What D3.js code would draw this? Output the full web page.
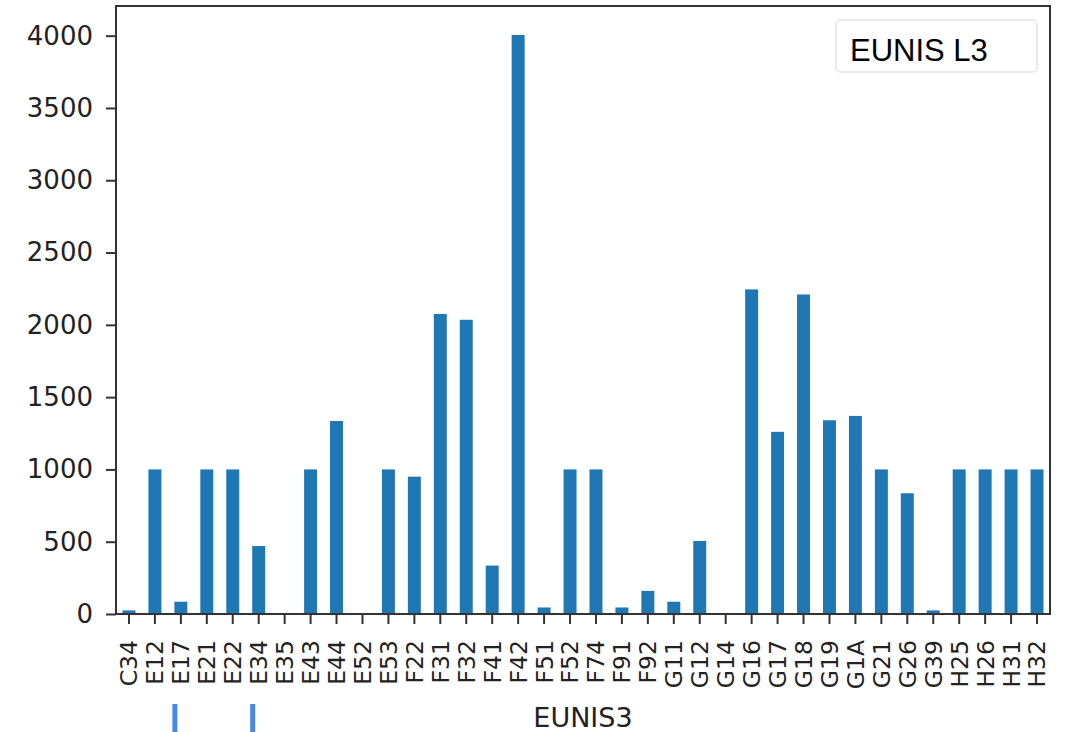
<!DOCTYPE html>
<html>
<head>
<meta charset="utf-8">
<script src="https://cdn.jsdelivr.net/npm/d3@7"></script>
<style>
  html, body { margin: 0; padding: 0; background: #fff; }
  svg { display: block; }
</style>
</head>
<body>
<svg id="chart" width="1066" height="732"></svg>
<script>
// EUNIS level-3 habitat codes and their counts
const categories = ["C34","E12","E17","E21","E22","E34","E35","E43","E44","E52","E53",
  "F22","F31","F32","F41","F42","F51","F52","F74","F91","F92",
  "G11","G12","G14","G16","G17","G18","G19","G1A","G21","G26","G39",
  "H25","H26","H31","H32"];
const counts = [25,1000,85,1000,1000,470,0,1000,1335,0,1000,
  950,2075,2035,335,4005,45,1000,1000,45,160,
  85,505,0,2245,1260,2210,1340,1370,1000,835,25,
  1000,1000,1000,1000];
const yTicks = [0,500,1000,1500,2000,2500,3000,3500,4000];
const xTitle = "EUNIS3";
const legendText = "EUNIS L3";
// short blue marker strokes under two of the codes
const markedCodes = ["E17","E34"];

const svg = d3.select("#chart");
const plot = { left: 116, right: 1050, top: 6, bottom: 614 };

const x = d3.scaleBand()
  .domain(categories)
  .range([plot.left, plot.right])
  .paddingInner(0.5)
  .paddingOuter(0.25);

const y = d3.scaleLinear()
  .domain([0, d3.max(counts) * 1.05])
  .range([plot.bottom, plot.top]);

// bars
svg.append("g")
  .selectAll("rect")
  .data(categories)
  .join("rect")
  .attr("x", d => x(d))
  .attr("width", x.bandwidth())
  .attr("y", (d, i) => y(counts[i]))
  .attr("height", (d, i) => y(0) - y(counts[i]))
  .attr("fill", "#1f77b4");

// y axis
const yAxis = svg.append("g")
  .attr("transform", `translate(${plot.left},0)`)
  .call(d3.axisLeft(y).tickValues(yTicks).tickSize(10).tickPadding(13).tickFormat(d3.format("d")));
yAxis.select(".domain").remove();
yAxis.selectAll(".tick line").attr("stroke", "#333").attr("stroke-width", 2);
yAxis.selectAll(".tick text")
  .attr("fill", "#222")
  .style("font-family", "'DejaVu Sans', sans-serif")
  .style("font-size", "26px");

// x axis
const xAxis = svg.append("g")
  .attr("transform", `translate(0,${plot.bottom})`)
  .call(d3.axisBottom(x).tickSize(10).tickPadding(0));
xAxis.select(".domain").remove();
xAxis.selectAll(".tick line").attr("stroke", "#333").attr("stroke-width", 2);
xAxis.selectAll(".tick text")
  .attr("fill", "#222")
  .attr("text-anchor", "end")
  .attr("y", 0)
  .attr("dy", "0.36em")
  .attr("transform", "translate(0,26) rotate(-90)")
  .style("font-family", "'DejaVu Sans', sans-serif")
  .style("font-size", "23.5px");

// frame
svg.append("rect")
  .attr("x", plot.left)
  .attr("y", plot.top)
  .attr("width", plot.right - plot.left)
  .attr("height", plot.bottom - plot.top)
  .attr("fill", "none")
  .attr("stroke", "#333")
  .attr("stroke-width", 2);

// x axis title
svg.append("text")
  .attr("x", (plot.left + plot.right) / 2)
  .attr("y", 727)
  .attr("text-anchor", "middle")
  .attr("fill", "#222")
  .style("font-family", "'DejaVu Sans', sans-serif")
  .style("font-size", "27px")
  .text(xTitle);

// legend box
const lg = svg.append("g");
lg.append("rect")
  .attr("x", 836)
  .attr("y", 20)
  .attr("width", 201)
  .attr("height", 52)
  .attr("rx", 4)
  .attr("fill", "#fff")
  .attr("stroke", "#e4e4e4")
  .attr("stroke-width", 1.5);
lg.append("text")
  .attr("x", 850)
  .attr("y", 61)
  .attr("fill", "#000")
  .style("font-family", "'Liberation Sans', Arial, sans-serif")
  .style("font-size", "31px")
  .text(legendText);

// blue markers below the selected codes
svg.append("g")
  .selectAll("rect")
  .data(markedCodes)
  .join("rect")
  .attr("x", d => x(d) + x.bandwidth() / 2 - 6 - 2.5)
  .attr("y", 704)
  .attr("width", 5)
  .attr("height", 28)
  .attr("fill", "#4a86f0");
</script>
</body>
</html>
